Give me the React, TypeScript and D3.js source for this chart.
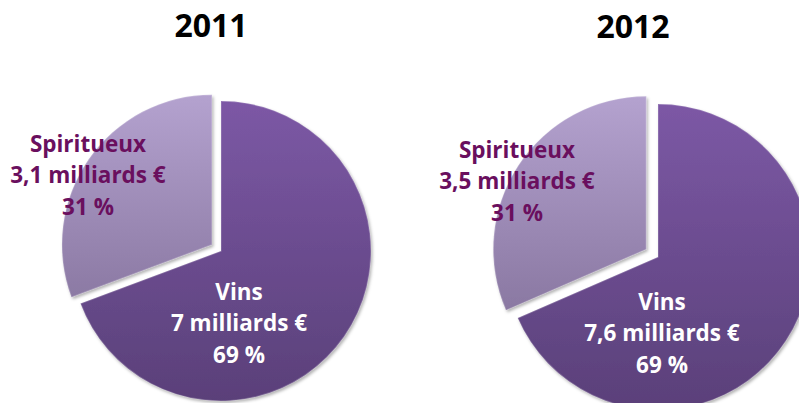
import React from "react";
import * as d3 from "d3";

const categories = ["Vins", "Spiritueux"];
const years = ["2011", "2012"];
const values2011 = [7, 3.1];
const values2012 = [7.6, 3.5];
const amountLabels2011 = ["7 milliards €", "3,1 milliards €"];
const amountLabels2012 = ["7,6 milliards €", "3,5 milliards €"];
const pctLabels2011 = ["69 %", "31 %"];
const pctLabels2012 = ["69 %", "31 %"];

const W = 799;
const H = 403;

const layouts = [
  { cx: 221, cy: 251, r: 150, explode: 11, titleX: 211, titleY: 37, labelOff: [[18, 73], [-133, -75]] },
  { cx: 658, cy: 257, r: 153, explode: 14, titleX: 633, titleY: 38, labelOff: [[4, 77], [-141, -75]] },
];

const datasets = [
  { year: years[0], values: values2011, amounts: amountLabels2011, pcts: pctLabels2011 },
  { year: years[1], values: values2012, amounts: amountLabels2012, pcts: pctLabels2012 },
];

const FONT = "'Open Sans', 'Liberation Sans', sans-serif";
const lineGap = 31.5;

export default function App() {
  const pie = d3.pie<number>().sort(null).value((d) => d).startAngle(0).endAngle(2 * Math.PI);

  return (
    <svg width={W} height={H} style={{ position: "absolute", left: 0, top: 0, display: "block", background: "#fff" }}>
      <defs>
        <filter id="shadow" x="-20%" y="-20%" width="140%" height="140%">
          <feDropShadow dx="1.5" dy="2" stdDeviation="1.5" floodColor="#000" floodOpacity="0.3" />
        </filter>
        {layouts.map((L, i) => (
          <React.Fragment key={i}>
            <linearGradient id={`gv${i}`} gradientUnits="userSpaceOnUse" x1="0" y1={-L.r} x2="0" y2={L.r}>
              <stop offset="0" stopColor="#7c58a5" />
              <stop offset="1" stopColor="#5a4079" />
            </linearGradient>
            <linearGradient id={`gs${i}`} gradientUnits="userSpaceOnUse" x1="0" y1={-L.r} x2="0" y2={L.r * 0.4}>
              <stop offset="0" stopColor="#b4a2cf" />
              <stop offset="1" stopColor="#8a78a2" />
            </linearGradient>
          </React.Fragment>
        ))}
      </defs>
      {datasets.map((ds, i) => {
        const L = layouts[i];
        const arcs = pie(ds.values);
        const arc = d3.arc<d3.PieArcDatum<number>>().innerRadius(0).outerRadius(L.r);
        return (
          <g key={ds.year}>
            <text x={L.titleX} y={L.titleY} textAnchor="middle" fontFamily={FONT} fontWeight="bold" fontSize={32} fill="#000">
              {ds.year}
            </text>
            {arcs.map((a, j) => {
              const mid = (a.startAngle + a.endAngle) / 2;
              const ex = j === 1 ? L.explode : 0;
              const tx = L.cx + ex * Math.sin(mid);
              const ty = L.cy - ex * Math.cos(mid);
              return (
                <g key={categories[j]} transform={`translate(${tx},${ty})`}>
                  <path d={arc(a) || ""} fill={`url(#${j === 0 ? "gv" : "gs"}${i})`} filter="url(#shadow)" />
                  <path d={arc(a) || ""} fill="none" stroke="#ffffff" strokeOpacity={0.2} strokeWidth={1.5} />
                </g>
              );
            })}
            {arcs.map((a, j) => {
              const [ox, oy] = L.labelOff[j];
              const x = L.cx + ox;
              const y = L.cy + oy;
              const color = j === 0 ? "#ffffff" : "#6a0f5e";
              const lines = [categories[j], ds.amounts[j], ds.pcts[j]];
              return (
                <text key={"l" + j} textAnchor="middle" fontFamily={FONT} fontWeight="bold" fontSize={22.5} fill={color}>
                  {lines.map((t, k) => (
                    <tspan key={k} x={x} y={y + (k - 1) * lineGap + 7}>
                      {t}
                    </tspan>
                  ))}
                </text>
              );
            })}
          </g>
        );
      })}
    </svg>
  );
}
